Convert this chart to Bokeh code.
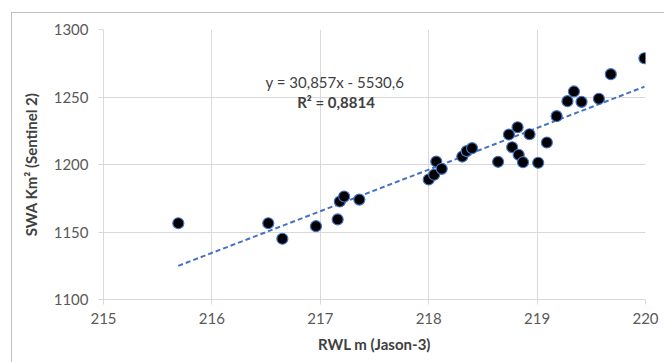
from bokeh.plotting import figure
from bokeh.models import Label, FixedTicker, InlineStyleSheet
from bokeh.embed import file_html
from bokeh.resources import INLINE

# Data
rwl = [215.69, 216.52, 216.65, 216.96, 217.16, 217.18, 217.22, 217.36,
       218.00, 218.05, 218.07, 218.12, 218.31, 218.35, 218.40, 218.64,
       218.74, 218.77, 218.82, 218.83, 218.87, 218.93, 219.01, 219.09,
       219.18, 219.28, 219.34, 219.41, 219.57, 219.68, 219.99]
swa = [1156.5, 1156.5, 1145.0, 1154.3, 1159.3, 1172.6, 1176.3, 1174.0,
       1188.9, 1192.4, 1202.2, 1196.8, 1205.9, 1209.9, 1212.1, 1202.0,
       1222.2, 1212.8, 1227.6, 1207.2, 1201.7, 1222.4, 1201.3, 1216.3,
       1235.8, 1246.9, 1254.1, 1246.4, 1248.7, 1266.9, 1278.7]
slope = 30.857
intercept = -5530.6
eq_text = "y = 30,857x - 5530,6"
r2_text = "R² = 0,8814"
x_ticks = [215, 216, 217, 218, 219, 220]
y_ticks = [1100, 1150, 1200, 1250, 1300]

FONT = "Lato"

p = figure(width=664, height=362,
           x_range=(215, 220), y_range=(1100, 1300),
           output_backend="svg", toolbar_location=None,
           min_border_left=103, min_border_top=29, min_border_right=19,
           min_border_bottom=63)
p.outline_line_color = None
p.background_fill_color = "white"
p.border_fill_color = "white"
p.stylesheets = [InlineStyleSheet(css="""
:host { position: relative; }
:host::after {
  content: "";
  position: absolute;
  left: 11px; top: 12px; right: 0px; bottom: 0px;
  border-left: 1px solid #bfbfbf;
  border-top: 1px solid #bfbfbf;
  pointer-events: none;
}
""")]

for ax in (p.xaxis, p.yaxis):
    ax.axis_line_color = "#d9d9d9"
    ax.major_tick_line_color = "#d9d9d9"
    ax.major_tick_out = 5
    ax.major_tick_in = 0
    ax.minor_tick_line_color = None
    ax.major_label_text_font = FONT
    ax.major_label_text_font_size = "15px"
    ax.major_label_text_color = "#595959"
    ax.axis_label_text_font = FONT
    ax.axis_label_text_font_size = "15px"
    ax.axis_label_text_font_style = "bold"
    ax.axis_label_text_color = "#404040"

p.xaxis.ticker = FixedTicker(ticks=x_ticks)
p.yaxis.ticker = FixedTicker(ticks=y_ticks)
p.xaxis.axis_label = "RWL m (Jason-3)"
p.yaxis.axis_label = "SWA Km² (Sentinel 2)"
p.xaxis.major_label_standoff = 8
p.yaxis.major_label_standoff = 10
p.xaxis.axis_label_standoff = 8
p.yaxis.axis_label_standoff = 11

p.grid.grid_line_color = "#d9d9d9"
p.grid.grid_line_width = 1

# trend line from the displayed equation
x0, x1 = min(rwl), max(rwl)
p.line([x0, x1], [slope * x0 + intercept, slope * x1 + intercept],
       line_color="#4472c4", line_width=2, line_dash="5 3")

p.scatter(rwl, swa, size=11, fill_color="black", line_color="#4472c4",
          line_width=1.2)

p.add_layout(Label(x=217.135, y=1261, text=eq_text, text_align="center",
                   text_baseline="middle", text_font=FONT,
                   text_font_size="15px", text_color="#404040"))
p.add_layout(Label(x=217.145, y=1246, text=r2_text, text_align="center",
                   text_baseline="middle", text_font=FONT,
                   text_font_size="15px", text_font_style="bold",
                   text_color="#404040"))

open("out.html", "w").write(file_html(p, INLINE))
